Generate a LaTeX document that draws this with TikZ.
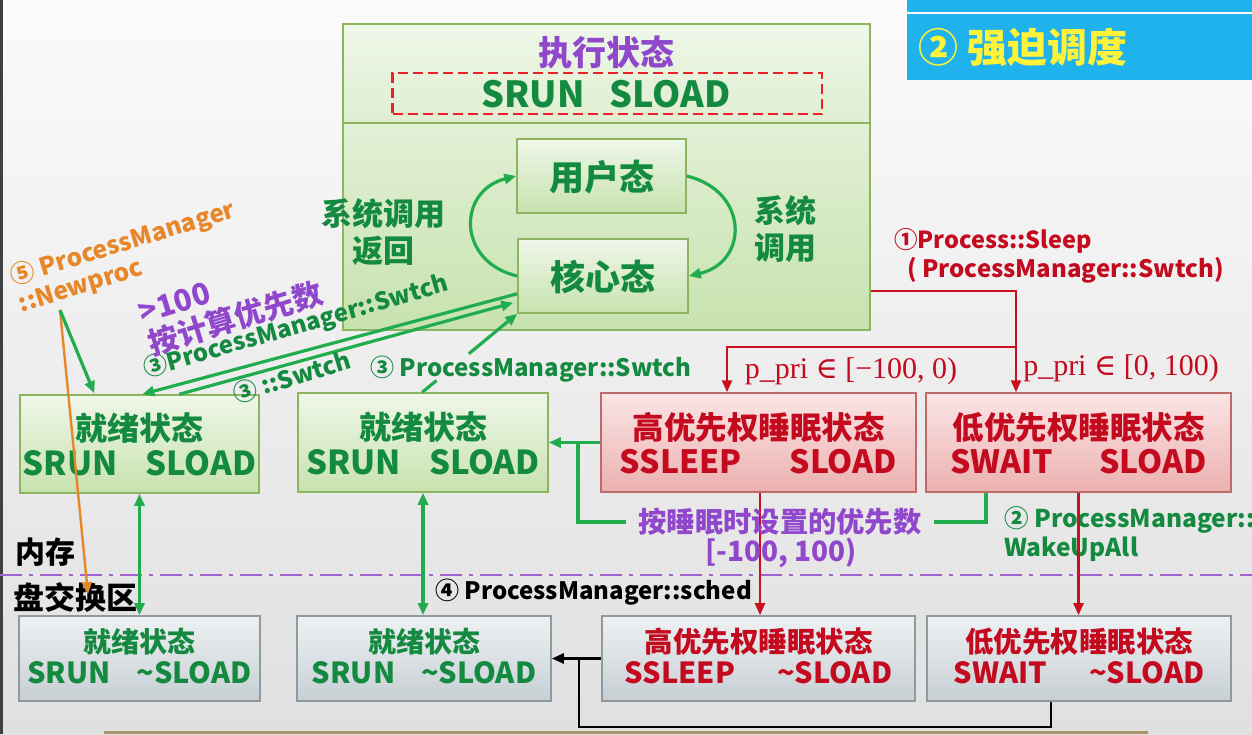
\documentclass[tikz,border=0pt]{standalone}
\usepackage{fontspec}
\setmainfont{Noto Sans CJK SC}
\newfontfamily\srf{Liberation Serif}
\newfontfamily\djs{DejaVu Serif}
\usetikzlibrary{arrows.meta,calc}
\definecolor{bgtop}{HTML}{FBFBFB}
\definecolor{bgbot}{HTML}{E0E0E0}
\definecolor{gtop}{HTML}{EFF7E9}
\definecolor{gbot}{HTML}{C7E2AE}
\definecolor{gborder}{HTML}{8DB55F}
\definecolor{rtop}{HTML}{FBE6E6}
\definecolor{rbot}{HTML}{ECB0B0}
\definecolor{rborder}{HTML}{BF6A6A}
\definecolor{stop}{HTML}{EEF1F3}
\definecolor{sbot}{HTML}{C7CFD4}
\definecolor{sborder}{HTML}{8F999E}
\definecolor{dgreen}{HTML}{138A3F}
\definecolor{lgreen}{HTML}{21AD4E}
\definecolor{redtxt}{HTML}{C40A1E}
\definecolor{redline}{HTML}{C8101E}
\definecolor{dashred}{HTML}{F0202A}
\definecolor{purp}{HTML}{9047CC}
\definecolor{orng}{HTML}{E8872A}
\definecolor{skyb}{HTML}{20B2EC}
\definecolor{yel}{HTML}{FFF23A}
\definecolor{tan}{HTML}{A89468}
\tikzset{
  gbox/.style={draw=gborder,line width=1.5pt,top color=gtop,bottom color=gbot,inner sep=0pt},
  rbox/.style={draw=rborder,line width=1.5pt,top color=rtop,bottom color=rbot,inner sep=0pt},
  sbox/.style={draw=sborder,line width=1.7pt,top color=stop,bottom color=sbot,inner sep=0pt},
  txt/.style={inner sep=0pt,font=\bfseries},
  gl/.style={draw=lgreen,line width=3.2pt},
  rl/.style={draw=redline,line width=2.6pt},
  bl/.style={draw=black,line width=2.6pt},
  tip/.style={-{Triangle[length=12pt,width=10pt]}},
  tips/.style={{Triangle[length=12pt,width=10pt]}-{Triangle[length=12pt,width=10pt]}},
  fs/.style 2 args={font=\bfseries\fontsize{#1}{#2}\selectfont},
}
\begin{document}
\begin{tikzpicture}[x=1pt,y=-1pt]
\useasboundingbox (0,0) rectangle (1252,734);
% background
\shade[top color=bgtop,bottom color=bgbot] (0,0) rectangle (1252,734);
\fill[black!75] (0,0) rectangle (2.5,734);
\fill[tan] (104,730.5) rectangle (1148,734);
% blue title strips
\fill[skyb] (907,0) rectangle (1252,12);
\fill[skyb] (907,14) rectangle (1252,80);
\node[txt,anchor=west,text=yel,fs={40}{46}] (title) at (918,47) {② 强迫调度};

% execution box
\node[gbox,minimum width=527pt,minimum height=306pt] (exec) at (606.5,177) {};
\shade[top color=gtop,bottom color=gtop!60!gbot,draw=gborder,line width=1.5pt] (343,24) rectangle (870,123);
\node[txt,text=purp,fs={34}{38}] (texec) at (606,52) {执行状态};
\node[draw=dashred,line width=2.8pt,dash pattern=on 10pt off 5pt,minimum width=429.5pt,minimum height=41pt,inner sep=0pt] (dsh) at (607.25,93.5) {};
\node[txt,text=dgreen,fs={36}{40}] (tsrun0) at (606,94) {SRUN\hspace{25pt}SLOAD};

\node[gbox,minimum width=169pt,minimum height=74pt] (usr) at (601.5,176) {};
\node[txt,text=dgreen,fs={35}{38}] (tusr) at (601.5,177) {用户态};
\node[gbox,minimum width=170pt,minimum height=74pt] (ker) at (603,276) {};
\node[txt,text=dgreen,fs={35}{38}] (tker) at (603,277) {核心态};
\draw[gl,tip] (ker.west) .. controls (457,262) and (457,191) .. (usr.west);
\draw[gl,tip] (usr.east) .. controls (749,191) and (749,262) .. (ker.east);
\node[txt,text=dgreen,fs={31}{37},align=center] (tret) at (383,232) {系统调用\\返回};
\node[txt,text=dgreen,fs={31}{37},align=center] (tcall) at (785,229) {系统\\调用};

% memory row boxes
\node[gbox,minimum width=239pt,minimum height=98pt] (r1) at (139.5,444) {};
\node[txt,text=dgreen,fs={32}{36}] (tr1a) at (139.5,428) {就绪状态};
\node[txt,text=dgreen,fs={33}{38}] (tr1b) at (139.5,463) {SRUN\hspace{28pt}SLOAD};
\node[gbox,minimum width=250pt,minimum height=99pt] (r2) at (423,442.5) {};
\node[txt,text=dgreen,fs={32}{36}] (tr2a) at (423,427) {就绪状态};
\node[txt,text=dgreen,fs={33}{38}] (tr2b) at (423,462) {SRUN\hspace{28pt}SLOAD};
\node[rbox,minimum width=315pt,minimum height=99pt] (h1) at (758.5,442.5) {};
\node[txt,text=redtxt,fs={31.5}{35}] (th1a) at (758.5,427) {高优先权睡眠状态};
\node[txt,text=redtxt,fs={32}{36}] (th1b) at (758.5,462) {SSLEEP\hspace{48pt}SLOAD};
\node[rbox,minimum width=305pt,minimum height=99pt] (l1) at (1078.5,442.5) {};
\node[txt,text=redtxt,fs={31.5}{35}] (tl1a) at (1078.5,427) {低优先权睡眠状态};
\node[txt,text=redtxt,fs={32}{36}] (tl1b) at (1078.5,462) {SWAIT\hspace{46pt}SLOAD};

% disk row boxes
\node[sbox,minimum width=241pt,minimum height=85pt] (d1) at (139.5,658.5) {};
\node[txt,text=dgreen,fs={28}{32}] (td1a) at (139.5,642) {就绪状态};
\node[txt,text=dgreen,fs={29}{33}] (td1b) at (139.5,673) {SRUN\hspace{26pt}\textasciitilde SLOAD};
\node[sbox,minimum width=254pt,minimum height=85pt] (d2) at (424,658.5) {};
\node[txt,text=dgreen,fs={28}{32}] (td2a) at (424,642) {就绪状态};
\node[txt,text=dgreen,fs={29}{33}] (td2b) at (424,673) {SRUN\hspace{26pt}\textasciitilde SLOAD};
\node[sbox,minimum width=313pt,minimum height=85pt] (h2) at (758.5,658.5) {};
\node[txt,text=redtxt,fs={28.5}{32}] (th2a) at (758.5,642) {高优先权睡眠状态};
\node[txt,text=redtxt,fs={29}{33}] (th2b) at (758.5,673) {SSLEEP\hspace{42pt}\textasciitilde SLOAD};
\node[sbox,minimum width=304pt,minimum height=85pt] (l2) at (1079,658.5) {};
\node[txt,text=redtxt,fs={28.5}{32}] (tl2a) at (1079,642) {低优先权睡眠状态};
\node[txt,text=redtxt,fs={29}{33}] (tl2b) at (1079,673) {SWAIT\hspace{42pt}\textasciitilde SLOAD};

% memory / disk divider
\draw[draw=purp!85,line width=2.6pt,dash pattern=on 22pt off 7pt on 4pt off 7pt] (0,575) -- (1252,575);
\node[txt,fs={30}{34},anchor=west] (tmem) at (15,552) {内存};
\node[txt,fs={31}{34},anchor=west] (tdisk) at (13,598) {盘交换区};

% red connectors
\coordinate (y291) at (0,291);
\coordinate (rj) at (1016,347);
\coordinate (hx) at (727,0);
\coordinate (vx1) at (760,0);
\draw[rl,tip] (exec.east |- y291) -| (rj) -- (rj |- l1.north);
\draw[rl,tip] (rj) -| (hx |- h1.north);
\node[text=redtxt,inner sep=0pt,font=\srf\fontsize{30}{32}\selectfont] (pp1) at (851,371) {p\_pri {\djs ∈} [−100, 0)};
\node[text=redtxt,inner sep=0pt,font=\srf\fontsize{30}{32}\selectfont] (pp2) at (1121,368) {p\_pri {\djs ∈} [0, 100)};
\node[txt,text=redtxt,fs={23.5}{29},anchor=west,align=left] (tsleep) at (894,256) {①Process::Sleep\\\hspace{13pt}{\fontsize{24}{29}\selectfont ( ProcessManager::Swtch)}};

% wake up label, then red lines over it
\node[txt,text=dgreen,fs={24.5}{29},anchor=west,align=left] (twake) at (1004,534) {② ProcessManager::\\WakeUpAll};
\draw[rl,tip] (vx1 |- h1.south) -- (vx1 |- h2.north);
\draw[rl,tip] (l1.south) -- (l1.south |- l2.north);

% green priority connector
\node[txt,text=purp,fs={28.3}{32},inner xsep=12pt] (prio1) at (780,522) {按睡眠时设置的优先数};
\node[txt,text=purp,fs={28}{32}] (prio2) at (781,553) {[-100, 100)};
\coordinate (gj) at (578,442.5);
\coordinate (gx) at (986,0);
\draw[gl,tip] (h1.west) -- (r2.east);
\draw[gl] (gx |- l1.south) |- (prio1.east);
\draw[gl] (prio1.west) -| (gj);

% swap arrows
\draw[gl,tips] (r1.south) -- (r1.south |- d1.north);
\draw[gl,tips] (r2.south) -- (r2.south |- d2.north);
\node[txt,fs={24}{28},anchor=west] (tsched) at (435,592) {④ ProcessManager::sched};

% black return path
\coordinate (bx) at (1051,0);
\coordinate (bj) at (579,727);
\draw[bl] (h2.west) -- (h2.west -| bj);
\draw[bl,tip] (bx |- l2.south) |- (bj) |- (d2.east);

% green switch lines
\coordinate (ka) at ($(ker.south west)+(0,-20)$);
\coordinate (kb) at ($(ker.south west)+(-4,-11)$);
\coordinate (ra) at ($(r1.north west)+(123,0)$);
\coordinate (rb) at ($(r1.north west)+(160,0)$);
\draw[gl,tip] (ka) -- (ra);
\draw[gl,tip] (rb) -- (kb);
\coordinate (sa) at ($(r2.north west)+(125,0)$);
\draw[gl] (sa) -- ($(sa)!0.15!(ker.south west)$);
\draw[gl,tip] ($(sa)!0.49!(ker.south west)$) -- (ker.south west);
\node[txt,text=dgreen,fs={24}{28},rotate=16] (tsw1) at (296,327) {③ProcessManager::Swtch};
\node[txt,text=dgreen,fs={24}{28},rotate=17] (tsw2) at (292,377) {③ ::Swtch};
\node[txt,text=dgreen,fs={24}{28}] (tsw3) at (531,369) {③ ProcessManager::Swtch};

% purple and orange labels
\node[txt,text=purp,fs={30}{33},rotate=17,align=left] (tcalc) at (231,304) {>100\\按计算优先数};
\node[txt,text=orng,fs={24.5}{28},rotate=17,align=left] (tnew) at (127,257) {⑤ ProcessManager\\::Newproc};
\coordinate (np) at (60,310);
\draw[draw=orng,line width=2.4pt,tip] (np) -- (88,594);
\draw[gl,tip] (np) -- ($(r1.north west)+(75,-1)$);
\end{tikzpicture}
\end{document}
